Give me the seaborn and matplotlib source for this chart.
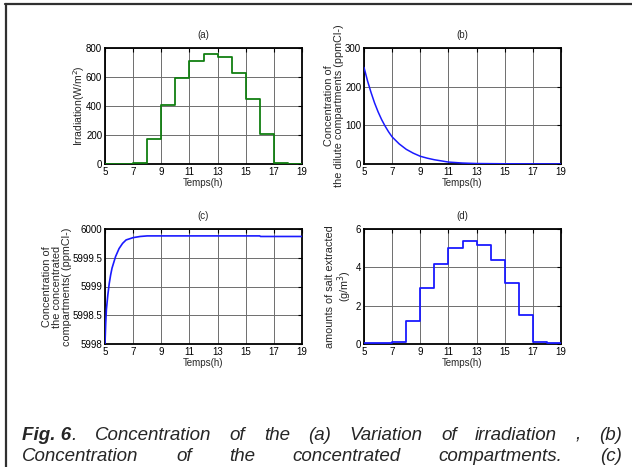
import numpy as np
import pandas as pd
import seaborn as sns
import matplotlib
import matplotlib.pyplot as plt
from matplotlib.lines import Line2D
from matplotlib import font_manager

# ---------------- data ----------------
hours = [5, 6, 7, 8, 9, 10, 11, 12, 13, 14, 15, 16, 17, 18, 19]
irradiation = [0, 0, 10, 170, 410, 590, 710, 760, 735, 625, 450, 210, 8, 0, 0]
salt_extracted = [0.05, 0.05, 0.1, 1.2, 2.9, 4.2, 5.0, 5.35, 5.15, 4.4, 3.2, 1.5, 0.1, 0.05, 0.05]

dilute_t = [5, 5.25, 5.5, 5.75, 6, 6.25, 6.5, 6.75, 7, 7.5, 8, 8.5, 9, 9.5, 10, 10.5, 11, 12, 13, 15, 17, 19]
dilute_c = [250, 215, 185, 158, 135, 115, 98, 83, 70, 52, 38, 28, 20, 15, 11, 8, 5, 2.5, 1.2, 0.6, 0.4, 0.3]

conc_t = [5, 5.05, 5.1, 5.2, 5.3, 5.4, 5.5, 5.75, 6, 6.25, 6.5, 7, 7.5, 8, 9, 16, 16.05, 19]
conc_c = [5998.0, 5998.35, 5998.6, 5998.85, 5999.05, 5999.2, 5999.32, 5999.52, 5999.66, 5999.75, 5999.81,
          5999.85, 5999.87, 5999.88, 5999.88, 5999.88, 5999.87, 5999.87]

xticks = [5, 7, 9, 11, 13, 15, 17, 19]
yticks_a = [0, 200, 400, 600, 800]
yticks_b = [0, 100, 200, 300]
yticks_c = [5998, 5998.5, 5999, 5999.5, 6000]
yticklabels_c = ["5998", "5998.5", "5999", "5999.5", "6000"]
yticks_d = [0, 2, 4, 6]

# ---------------- style ----------------
sns.set_style("white")
matplotlib.rcParams['font.family'] = ['Liberation Sans', 'DejaVu Sans']
installed = {f.name for f in font_manager.fontManager.ttflist}
if 'Liberation Sans Narrow' in installed:
    NARROW = ['Liberation Sans Narrow', 'DejaVu Sans']
    TICK = 7.5
else:
    NARROW = ['Liberation Sans', 'DejaVu Sans']
    TICK = 7.0

W, H = 632, 467
fig = plt.figure(figsize=(W / 100, H / 100), dpi=100)
fig.patch.set_facecolor('white')


def make_ax(left, top, right, bottom):
    return fig.add_axes([left / W, 1 - bottom / H, (right - left) / W, (bottom - top) / H])


ax_a = make_ax(105, 48, 302, 164)
ax_b = make_ax(364, 48, 561, 164)
ax_c = make_ax(105, 229, 302, 344)
ax_d = make_ax(364, 229, 561, 344)

green = '#117f11'
blue = '#1a1aff'

df_a = pd.DataFrame({'t': hours, 'v': irradiation})
df_d = pd.DataFrame({'t': hours, 'v': salt_extracted})
df_b = pd.DataFrame({'t': dilute_t, 'v': dilute_c})
df_c = pd.DataFrame({'t': conc_t, 'v': conc_c})

sns.lineplot(data=df_a, x='t', y='v', ax=ax_a, color=green, lw=1.3, drawstyle='steps-post', zorder=3)
sns.lineplot(data=df_b, x='t', y='v', ax=ax_b, color=blue, lw=1.1, zorder=3)
sns.lineplot(data=df_c, x='t', y='v', ax=ax_c, color=blue, lw=1.2, zorder=3)
sns.lineplot(data=df_d, x='t', y='v', ax=ax_d, color=blue, lw=1.3, drawstyle='steps-post', zorder=3)


def style(ax, title, yticks, ylim, yticklabels=None):
    ax.set_xlim(5, 19)
    ax.set_ylim(*ylim)
    ax.set_xticks(xticks)
    ax.set_xticklabels([str(v) for v in xticks], family=NARROW, fontsize=TICK)
    ax.set_yticks(yticks)
    labs = yticklabels if yticklabels else [str(v) for v in yticks]
    ax.set_yticklabels(labs, family=NARROW, fontsize=TICK)
    ax.grid(True, color='#6e6e6e', lw=0.7, ls='-')
    ax.set_axisbelow(True)
    ax.tick_params(direction='in', top=True, right=True, length=3, width=0.8, pad=2, colors='black')
    for s in ax.spines.values():
        s.set_color('black')
        s.set_linewidth(1.3)
    ax.set_xlabel('Temps(h)', family=NARROW, fontsize=TICK, labelpad=1)
    ax.set_ylabel('')
    ax.set_title(title, family=NARROW, fontsize=TICK, pad=7)


style(ax_a, '(a)', yticks_a, (0, 800))
style(ax_b, '(b)', yticks_b, (0, 300))
style(ax_c, '(c)', yticks_c, (5998, 6000), yticklabels_c)
style(ax_d, '(d)', yticks_d, (0, 6))


def ylab(ax, text, xc, size):
    ax.text(xc, 0.5, text, transform=ax.transAxes, rotation=90, ha='center', va='center',
            rotation_mode='anchor', multialignment='center', fontsize=size, linespacing=1.0)


ylab(ax_a, 'Irradiation(W/m$^2$)', -0.13, 7.5)
ylab(ax_b, 'Concentration of\nthe dilute compartments (ppmCl-)', -0.15, 7.8)
ylab(ax_c, 'Concentration of\nthe concentrated\ncompartments( (ppmCl-)', -0.245, 7.8)
ylab(ax_d, 'amounts of salt extracted\n(g/m$^3$)', -0.125, 7.8)

# ---------------- frame ----------------
fig.add_artist(Line2D([5 / W, 1], [1 - 3.5 / H, 1 - 3.5 / H], transform=fig.transFigure, color='#303030', lw=1.6))
fig.add_artist(Line2D([6 / W, 6 / W], [0, 1 - 3.5 / H], transform=fig.transFigure, color='#303030', lw=1.6))

# ---------------- caption (justified) ----------------
CAP = 13.5
renderer = fig.canvas.get_renderer()


def justify(tokens, y_px, L, R):
    items = []
    widths = []
    for tok in tokens:
        parts = []
        w = 0
        for s, wt in tok:
            t = fig.text(0, 1 - y_px / H, s, fontsize=CAP, style='italic', weight=wt, va='baseline', ha='left')
            bb = t.get_window_extent(renderer=renderer)
            parts.append((t, bb.width))
            w += bb.width
        items.append(parts)
        widths.append(w)
    gap = (R - L - sum(widths)) / (len(tokens) - 1)
    x = L
    for parts, w in zip(items, widths):
        xx = x
        for t, pw in parts:
            t.set_x(xx / W)
            xx += pw
        x += w + gap


line1 = [[('Fig. 6', 'bold'), ('.', 'normal')], [('Concentration', 'normal')], [('of', 'normal')],
         [('the', 'normal')], [('(a)', 'normal')], [('Variation', 'normal')], [('of', 'normal')],
         [('irradiation', 'normal')], [(',', 'normal')], [('(b)', 'normal')]]
line2 = [[('Concentration', 'normal')], [('of', 'normal')], [('the', 'normal')],
         [('concentrated', 'normal')], [('compartments.', 'normal')], [('(c)', 'normal')]]
justify(line1, 440, 22, 622)
justify(line2, 461, 22, 622)

fig.savefig('out.png', dpi=100, facecolor='white')
